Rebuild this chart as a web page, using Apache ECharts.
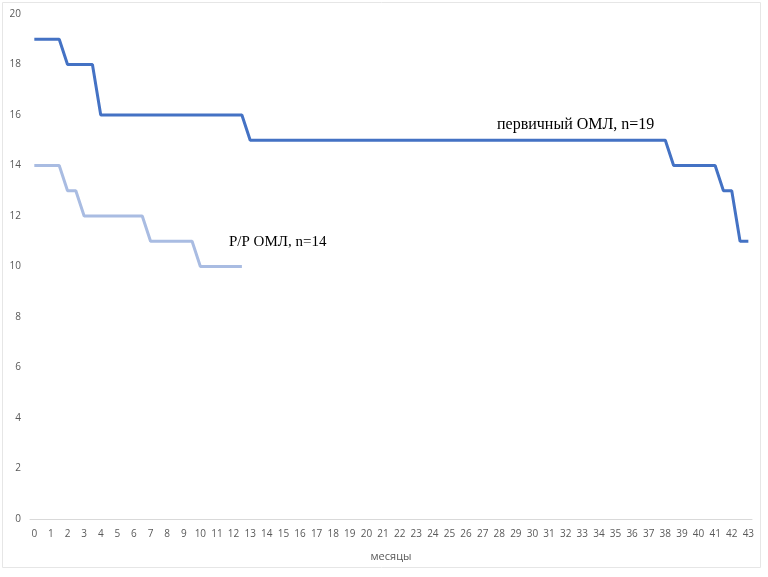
<!DOCTYPE html>
<html><head><meta charset="utf-8">
<script src="https://cdn.jsdelivr.net/npm/echarts@6/dist/echarts.min.js"></script>
<style>html,body{margin:0;padding:0;background:#fff}#c{width:768px;height:577px}</style>
</head><body><div id="c"></div>
<script>
// months (x) and patients remaining (y)
const primaryX = [0, 1.5, 2, 3.5, 4, 12.5, 13, 38, 38.5, 41, 41.5, 42, 42.5, 43];
const primaryY = [19, 19, 18, 18, 16, 16, 15, 15, 14, 14, 13, 13, 11, 11];
const rrX = [0, 1.5, 2, 2.5, 3, 6.5, 7, 9.5, 10, 12.5];
const rrY = [14, 14, 13, 13, 12, 12, 11, 11, 10, 10];
const xTicks = Array.from({length: 44}, (_, i) => i);
const yTicks = [0, 2, 4, 6, 8, 10, 12, 14, 16, 18, 20];
const primaryLabel = 'первичный ОМЛ, n=19';
const rrLabel = 'Р/Р ОМЛ, n=14';
const xName = 'месяцы';

const chart = echarts.init(document.getElementById('c'));
chart.setOption({
  animation: false,
  grid: {left: 30, right: 16, top: 14, bottom: 58},
  xAxis: {
    type: 'value', min: -0.26, max: 43.22,
    name: xName, nameLocation: 'middle', nameGap: 32,
    nameTextStyle: {color: '#595959', fontSize: 11, fontFamily: 'Open Sans'},
    axisLine: {show: true, lineStyle: {color: '#d9d9d9', width: 1}},
    axisTick: {show: false},
    splitLine: {show: false},
    axisLabel: {customValues: xTicks, color: '#595959', fontSize: 10, fontFamily: 'Open Sans', margin: 10}
  },
  yAxis: {
    type: 'value', min: 0, max: 20, interval: 2,
    axisLine: {show: false}, axisTick: {show: false}, splitLine: {show: false},
    axisLabel: {color: '#595959', fontSize: 10, fontFamily: 'Open Sans', margin: 9}
  },
  series: [
    {type: 'line', data: primaryX.map((x, i) => [x, primaryY[i]]), symbol: 'none',
     lineStyle: {color: '#4472c4', width: 3}, z: 3},
    {type: 'line', data: rrX.map((x, i) => [x, rrY[i]]), symbol: 'none',
     lineStyle: {color: '#a9bce2', width: 3}, z: 2}
  ],
  graphic: [
    {type: 'rect', shape: {x: 2.5, y: 2.5, width: 758, height: 565}, style: {fill: 'none', stroke: '#e6e6e6', lineWidth: 1}, silent: true, z: -1},
    {type: 'text', left: 497, top: 117, style: {text: primaryLabel, font: '16px "Liberation Serif"', fill: '#000'}},
    {type: 'text', left: 229, top: 235, style: {text: rrLabel, font: '15px "Liberation Serif"', fill: '#000'}}
  ]
});
</script></body></html>
